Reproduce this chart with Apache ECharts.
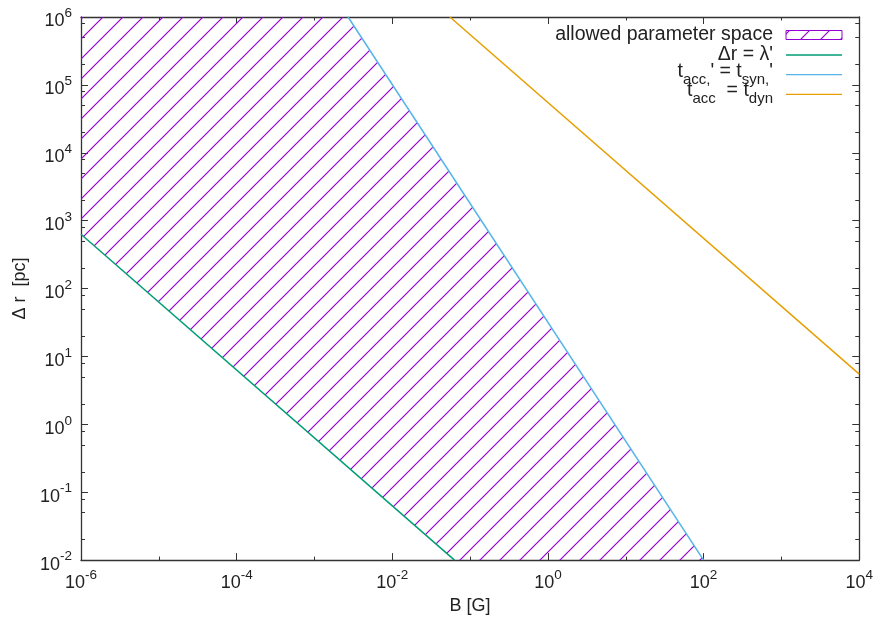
<!DOCTYPE html>
<html>
<head>
<meta charset="utf-8">
<script src="https://cdn.jsdelivr.net/npm/echarts@6/dist/echarts.min.js"></script>
<style>
  html, body { margin: 0; background: #fff; }
  #chart { width: 876px; height: 620px; }
</style>
</head>
<body>
<div id="chart"></div>
<script>
// line endpoints (B in G, delta r in pc)
const lambdaB = [1e-6, 6.3e-2];
const lambdaR = [630, 1e-2];
const synB = [2.7e-3, 100];
const synR = [1e6, 1e-2];
const dynB = [5.5e-2, 1e4];
const dynR = [1e6, 5.5];

const legendLabels = [
  "allowed parameter space",
  "{n|\u0394r = \u03bb'}",
  "{n|t}{s|acc,}{n|' = t}{s|syn,}{n|'}",
  "{n|t}{s|acc}{n|  = t}{s|dyn}",
];

// tick values
const xMajorTicks = [1e-6, 1e-4, 1e-2, 1, 1e2, 1e4];
const xMinorTicks = [1e-5, 1e-3, 1e-1, 10, 1e3];
const yMajorTicks = [1e-2, 1e-1, 1, 10, 1e2, 1e3, 1e4, 1e5, 1e6];
const minorMantissas = [2, 5, 8];

const FONT = "'Liberation Sans', Arial, sans-serif";
const AXIS_COLOR = "#333";
const TEXT_COLOR = "#222";
const PURPLE = "#9400d3";
const GREEN = "#009e73";
const BLUE = "#56b4e9";
const ORANGE = "#e69f00";

function makeHatch() {
  const c = document.createElement("canvas");
  c.width = 20;
  c.height = 20;
  const g = c.getContext("2d");
  g.strokeStyle = PURPLE;
  g.lineWidth = 1.2;
  g.beginPath();
  g.moveTo(-2, 22); g.lineTo(22, -2);
  g.moveTo(-2, 2); g.lineTo(2, -2);
  g.moveTo(18, 22); g.lineTo(22, 18);
  g.stroke();
  return c;
}
const hatch = { image: makeHatch(), repeat: "repeat" };

const yMinorTicks = [];
yMajorTicks.slice(0, -1).forEach((d) => {
  minorMantissas.forEach((m) => yMinorTicks.push(m * d));
});

function supLabel(v) {
  const e = Math.round(Math.log10(v));
  return "{b|10}{e|" + e + "}";
}
const supRich = {
  b: { fontSize: 18, lineHeight: 24, verticalAlign: "bottom", fontFamily: FONT, color: TEXT_COLOR },
  e: { fontSize: 13.5, verticalAlign: "top", fontFamily: FONT, color: TEXT_COLOR },
};

const regionB = [lambdaB[0], synB[0], synB[1], lambdaB[1], lambdaB[0]];
const regionR = [synR[0], synR[0], synR[1], lambdaR[1], lambdaR[0]];

const toPairs = (xs, ys) => xs.map((x, i) => [x, ys[i]]);

const chart = echarts.init(document.getElementById("chart"));

const axisLine = { show: true, onZero: false, lineStyle: { color: AXIS_COLOR, width: 1.3 } };
const nameStyle = { fontSize: 18, color: TEXT_COLOR, fontFamily: FONT };

function logAxis(min, max, pos, ticks, opts) {
  const major = opts.major;
  return {
    type: "log",
    logBase: 10,
    min: min,
    max: max,
    position: pos,
    splitLine: { show: false },
    axisLine: major ? axisLine : { show: false },
    axisTick: {
      show: true,
      inside: true,
      length: major ? 7 : opts.minorLength,
      customValues: ticks,
      lineStyle: { color: AXIS_COLOR, width: 1 },
    },
    axisLabel: opts.labels
      ? { show: true, customValues: ticks, formatter: supLabel, rich: supRich, margin: opts.margin, padding: opts.pad || 0 }
      : { show: false },
    name: opts.name || "",
    nameLocation: "middle",
    nameGap: opts.nameGap || 0,
    nameTextStyle: nameStyle,
  };
}

const legendX = 773;
const legendTextRows = [35, 55, 72, 91];
const legendSampleRows = [35, 55, 74.7, 94.3];
const legendColors = [PURPLE, GREEN, BLUE, ORANGE];
const legendRich = {
  n: { fontSize: 19.5, lineHeight: 30, fontFamily: FONT, color: TEXT_COLOR },
  s: { fontSize: 15, verticalAlign: "bottom", fontFamily: FONT, color: TEXT_COLOR },
};

const graphic = [];
legendLabels.forEach((label, i) => {
  graphic.push({
    type: "text",
    x: legendX,
    y: legendTextRows[i],
    style: {
      text: label,
      align: "right",
      verticalAlign: "middle",
      fontSize: 19.5,
      fontFamily: FONT,
      fill: TEXT_COLOR,
      rich: legendRich,
    },
  });
  if (i === 0) {
    graphic.push({
      type: "rect",
      shape: { x: 786, y: legendSampleRows[0] - 4.5, width: 56, height: 9 },
      style: { fill: hatch, stroke: PURPLE, lineWidth: 1 },
    });
  } else {
    graphic.push({
      type: "line",
      shape: { x1: 786, y1: legendSampleRows[i], x2: 842, y2: legendSampleRows[i] },
      style: { stroke: legendColors[i], lineWidth: 1.3 },
    });
  }
});

chart.setOption({
  animation: false,
  backgroundColor: "#fff",
  textStyle: { fontFamily: FONT },
  grid: { left: 81, right: 13, top: 17, bottom: 58, containLabel: false },
  xAxis: [
    logAxis(1e-6, 1e4, "bottom", xMajorTicks, { major: true, labels: true, margin: 8, name: "B [G]", nameGap: 36 }),
    logAxis(1e-6, 1e4, "bottom", xMinorTicks, { major: false, minorLength: 3.5 }),
    logAxis(1e-6, 1e4, "top", xMajorTicks, { major: true }),
    logAxis(1e-6, 1e4, "top", xMinorTicks, { major: false, minorLength: 3.5 }),
  ],
  yAxis: [
    logAxis(1e-2, 1e6, "left", yMajorTicks, { major: true, labels: true, margin: 9, pad: [3, 0, 0, 0], name: "\u0394 r  [pc]", nameGap: 47 }),
    logAxis(1e-2, 1e6, "left", yMinorTicks, { major: false, minorLength: 4 }),
    logAxis(1e-2, 1e6, "right", yMajorTicks, { major: true }),
    logAxis(1e-2, 1e6, "right", yMinorTicks, { major: false, minorLength: 4 }),
  ],
  series: [
    {
      name: "allowed parameter space",
      type: "custom",
      xAxisIndex: 0,
      yAxisIndex: 0,
      data: [[regionB[0], regionR[0]]],
      clip: true,
      renderItem: (params, api) => {
        const points = regionB.map((b, i) => api.coord([b, regionR[i]]));
        return { type: "polygon", shape: { points }, style: { fill: hatch, stroke: null } };
      },
      z: 1,
    },
    {
      name: "lambda",
      type: "line",
      data: toPairs(lambdaB, lambdaR),
      showSymbol: false,
      lineStyle: { color: GREEN, width: 1.5 },
      z: 3,
    },
    {
      name: "syn",
      type: "line",
      data: toPairs(synB, synR),
      showSymbol: false,
      lineStyle: { color: BLUE, width: 1.5 },
      z: 3,
    },
    {
      name: "dyn",
      type: "line",
      data: toPairs(dynB, dynR),
      showSymbol: false,
      lineStyle: { color: ORANGE, width: 1.5 },
      z: 3,
    },
  ],
  graphic: graphic,
});
</script>
</body>
</html>
